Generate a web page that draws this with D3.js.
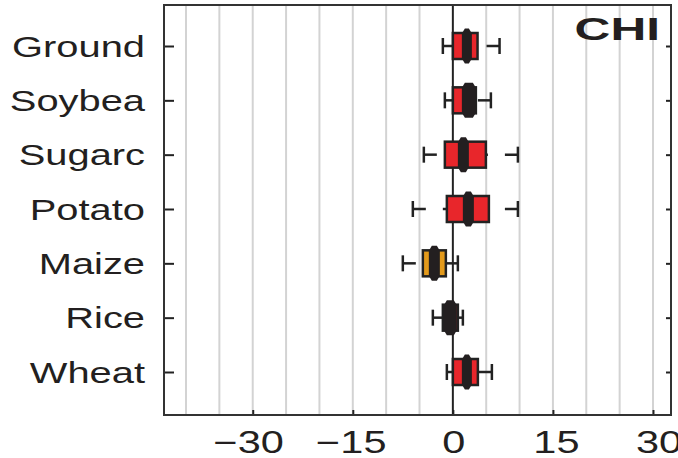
<!DOCTYPE html>
<html>

<head>
  <meta charset="utf-8">
  <title>CHI crop boxes</title>
  <script type="text/javascript" src="https://cdn.jsdelivr.net/npm/d3@7"></script>
  <style type="text/css">
    body { margin: 0; background: #fff; }
    text { font-family: "Liberation Sans", Arial, sans-serif; fill: #231f20; }
  </style>
</head>

<body>
  <script type="text/javascript">

    // Data
    const crops = ["Ground", "Soybea", "Sugarc", "Potato", "Maize", "Rice", "Wheat"];
    const whiskerLow = [-1.5, -1.2, -4.35, -6.0, -7.5, -3.0, -0.9];
    const boxLow = [0, 0, -1.2, -0.9, -4.5, -1.5, 0];
    const notchLow = [1.35, 1.35, 0.75, 1.5, -3.6, -1.35, 1.35];
    const notchHigh = [2.85, 3.45, 2.4, 3.15, -1.95, 0.6, 2.85];
    const boxHigh = [3.7, 3.45, 4.95, 5.4, -1.05, 0.75, 3.75];
    const whiskerHigh = [7.0, 5.7, 9.75, 9.75, 0.75, 1.5, 5.85];
    const boxColors = ["#e8262b", "#e8262b", "#e8262b", "#e8262b", "#e39a1b", "#e8262b", "#e8262b"];
    const xTicks = [-30, -15, 0, 15, 30];
    const gridValues = [-40, -35, -30, -25, -20, -15, -10, -5, 5, 10, 15, 20, 25, 30];
    const panelTitle = "CHI";

    // Width and height
    const w = 678;
    const h = 458;
    const padL = 164, padR = 671, padT = 5, padB = 415;
    const stretch = 1.36; // the original type is wide

    const svg = d3.select("body")
      .append("svg")
      .attr("width", w)
      .attr("height", h);

    const x = d3.scaleLinear().domain([-43.3, 32.7]).range([padL, padR]);
    const y = d3.scalePoint().domain(crops).range([46, 372]);

    // widen a text selection horizontally without a transform
    function widen(sel, k) {
      sel.each(function () {
        const len = this.getComputedTextLength();
        d3.select(this).attr("textLength", len * k).attr("lengthAdjust", "spacingAndGlyphs");
      });
    }

    const rows = crops.map(function (c, i) {
      return {
        crop: c, wlo: whiskerLow[i], q1: boxLow[i], n1: notchLow[i],
        n2: notchHigh[i], q3: boxHigh[i], whi: whiskerHigh[i], color: boxColors[i]
      };
    });

    // grid lines
    svg.append("g")
      .selectAll("line")
      .data(gridValues)
      .enter()
      .append("line")
      .attr("x1", d => x(d)).attr("x2", d => x(d))
      .attr("y1", padT).attr("y2", padB)
      .attr("stroke", "#d3d3d3")
      .attr("stroke-width", 2);

    // zero line
    svg.append("line")
      .attr("x1", x(0)).attr("x2", x(0))
      .attr("y1", padT).attr("y2", padB)
      .attr("stroke", "#222")
      .attr("stroke-width", 2);

    // bottom axis: ticks pointing in
    const xAxis = svg.append("g")
      .attr("transform", "translate(0," + padB + ")")
      .call(d3.axisBottom(x).tickValues(xTicks).tickSizeInner(-5).tickSizeOuter(0).tickFormat(""));
    xAxis.select(".domain").remove();
    xAxis.selectAll(".tick line").attr("stroke", "#222").attr("stroke-width", 2);

    // labels sit a little wider apart than the ticks in the original
    svg.append("g")
      .selectAll("text")
      .data(xTicks)
      .enter()
      .append("text")
      .attr("x", d => x(d * 1.025) + 1)
      .attr("y", 453)
      .attr("text-anchor", "middle")
      .style("font-size", "30.5px")
      .text(d => d < 0 ? "\u2212" + Math.abs(d) : d)
      .call(widen, stretch);

    // left axis ticks and labels
    const yAxis = svg.append("g")
      .attr("transform", "translate(" + padL + ",0)")
      .call(d3.axisLeft(y).tickSizeInner(-10).tickSizeOuter(0).tickFormat(""));
    yAxis.select(".domain").remove();
    yAxis.selectAll(".tick line").attr("stroke", "#222").attr("stroke-width", 2);

    const yAxisR = svg.append("g")
      .attr("transform", "translate(" + padR + ",0)")
      .call(d3.axisRight(y).tickSizeInner(-5).tickSizeOuter(0).tickFormat(""));
    yAxisR.select(".domain").remove();
    yAxisR.selectAll(".tick line").attr("stroke", "#222").attr("stroke-width", 2);

    svg.append("g")
      .selectAll("text")
      .data(crops)
      .enter()
      .append("text")
      .attr("x", 145)
      .attr("y", d => y(d) + 10.5)
      .attr("text-anchor", "end")
      .style("font-size", "29.3px")
      .text(d => d)
      .call(widen, stretch);

    // boxes
    const boxH = 26, notchH = 35, cx = 3, cy = 5;
    const g = svg.append("g")
      .selectAll("g")
      .data(rows)
      .enter()
      .append("g");

    // dashed whiskers, drawn from the caps toward the box
    g.append("line")
      .attr("x1", d => x(d.wlo)).attr("x2", d => x(d.q1))
      .attr("y1", d => y(d.crop)).attr("y2", d => y(d.crop))
      .attr("stroke", "#222").attr("stroke-width", 2.5)
      .attr("stroke-dasharray", "13,17");
    g.append("line")
      .attr("x1", d => x(d.whi)).attr("x2", d => x(d.q3))
      .attr("y1", d => y(d.crop)).attr("y2", d => y(d.crop))
      .attr("stroke", "#222").attr("stroke-width", 2.5)
      .attr("stroke-dasharray", "13,17");

    // caps
    g.selectAll(".cap")
      .data(d => [{ v: d.wlo, c: d.crop }, { v: d.whi, c: d.crop }])
      .enter()
      .append("line")
      .attr("class", "cap")
      .attr("x1", d => x(d.v)).attr("x2", d => x(d.v))
      .attr("y1", d => y(d.c) - 8).attr("y2", d => y(d.c) + 8)
      .attr("stroke", "#222").attr("stroke-width", 2.5);

    g.append("rect")
      .attr("x", d => x(d.q1))
      .attr("y", d => y(d.crop) - boxH / 2)
      .attr("width", d => x(d.q3) - x(d.q1))
      .attr("height", boxH)
      .attr("fill", d => d.color)
      .attr("stroke", "#222")
      .attr("stroke-width", 2.5);

    // black notch (median interval)
    g.append("path")
      .attr("d", function (d) {
        const a = x(d.n1), b = x(d.n2), t = y(d.crop) - notchH / 2, u = y(d.crop) + notchH / 2;
        return "M" + a + "," + (t + cy) + "L" + (a + cx) + "," + t + "L" + (b - cx) + "," + t +
          "L" + b + "," + (t + cy) + "L" + b + "," + (u - cy) + "L" + (b - cx) + "," + u +
          "L" + (a + cx) + "," + u + "L" + a + "," + (u - cy) + "Z";
      })
      .attr("fill", "#231f20");

    // frame
    svg.append("rect")
      .attr("x", padL).attr("y", padT)
      .attr("width", padR - padL).attr("height", padB - padT)
      .attr("fill", "none")
      .attr("stroke", "#333")
      .attr("stroke-width", 2);

    svg.append("text")
      .attr("x", 660)
      .attr("y", 40)
      .attr("text-anchor", "end")
      .style("font-size", "32px")
      .style("font-weight", "bold")
      .text(panelTitle)
      .call(widen, 1.55);

  </script>
</body>

</html>
